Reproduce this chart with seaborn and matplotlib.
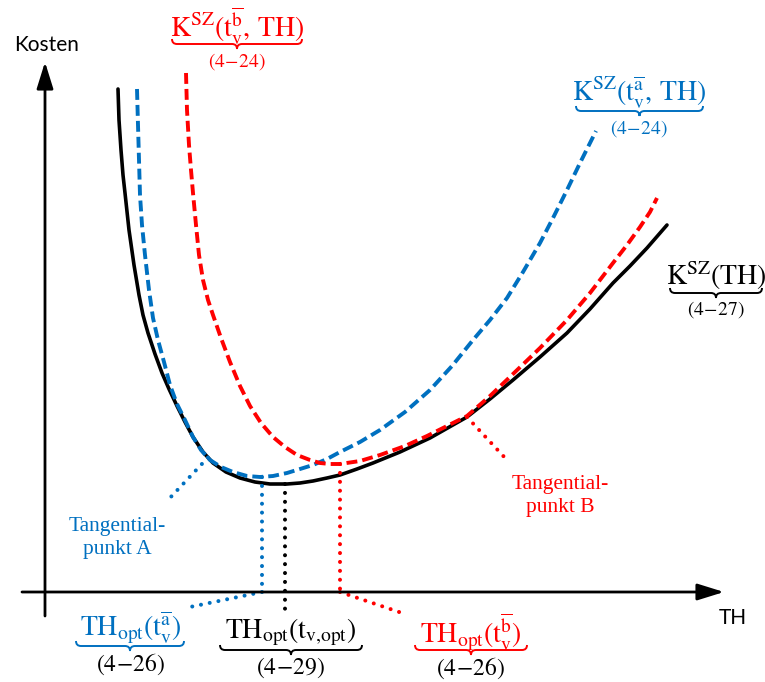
import numpy as np
import matplotlib
matplotlib.use("Agg")
import matplotlib.pyplot as plt
import seaborn as sns
from matplotlib.transforms import Affine2D
from matplotlib.path import Path
from matplotlib.patches import PathPatch

# ---- data (TH, cost) ----
th_black = [73, 74, 76, 78, 80, 84, 89, 94, 98, 103, 110, 117, 124, 132, 140, 148, 158, 168, 181, 195,
            210, 225, 242, 255, 268, 282, 295, 312, 328, 355, 385, 422, 445, 468, 495, 522, 545, 568,
            585, 602, 622]
cost_black = [503, 472, 442, 417, 399, 362, 327, 297, 277, 259, 238, 219, 203, 186, 170, 155, 140, 129, 120, 114,
              110, 108, 108, 109, 111, 114, 117, 123, 129, 140, 154, 175, 193, 212, 235, 259, 283, 309,
              326, 344, 367]

th_blue = [92, 93, 94, 95, 97, 100, 104, 108, 113, 119, 125, 132, 140, 148, 156, 165, 176, 188, 202, 215,
           228, 242, 255, 268, 282, 295, 315, 335, 360, 385, 407, 428, 445, 462, 478, 495, 508, 522, 535, 551]
cost_blue = [503, 467, 432, 397, 367, 337, 302, 274, 252, 230, 207, 188, 172, 155, 142, 132, 125, 120, 116, 115,
             116, 119, 123, 127, 133, 140, 150, 162, 180, 202, 226, 252, 272, 294, 320, 349, 374, 402, 429, 461]

th_red = [141, 142, 144, 146, 148, 151, 154, 158, 163, 168, 176, 185, 195, 205, 216, 228, 240, 252, 265, 275,
          285, 295, 315, 335, 360, 382, 402, 422, 445, 468, 495, 522, 545, 568, 582, 595, 605, 612]
cost_red = [519, 482, 447, 422, 399, 367, 337, 312, 292, 277, 254, 230, 206, 186, 169, 155, 145, 137, 132, 129,
            128, 128, 131, 137, 146, 156, 166, 176, 196, 218, 244, 272, 299, 329, 347, 365, 380, 394]

th_opt = {"a": 217, "opt": 240, "b": 295}       # optimum positions
tangent_th = {"A": 163, "B": 422}                # tangent points

RED = "#FF0000"
BLUE = "#0070C0"

sns.set_theme(style="white")
plt.rcParams["mathtext.fontset"] = "stix"

W, H = 765, 682
fig = plt.figure(figsize=(W / 100, H / 100), dpi=100)
ax = fig.add_axes([0, 0, 1, 1])
ax.set_xlim(-45, W - 45)
ax.set_ylim(592 - H, 592)
ax.set_axis_off()

# pixel transform (origin top-left) for annotations
pix = Affine2D().scale(1 / W, -1 / H).translate(0, 1) + fig.transFigure


def P(px, py):
    return px - 45, 592 - py


# ---- axes arrows ----
ax.annotate("", xy=P(45, 62), xytext=P(45, 616),
            arrowprops=dict(arrowstyle="-|>,head_length=0.9,head_width=0.28", lw=2, color="black",
                            mutation_scale=18, shrinkA=0, shrinkB=0))
ax.annotate("", xy=P(724, 592), xytext=P(22, 592),
            arrowprops=dict(arrowstyle="-|>,head_length=0.9,head_width=0.28", lw=2, color="black",
                            mutation_scale=18, shrinkA=0, shrinkB=0))

# ---- curves ----
sns.lineplot(x=th_black, y=cost_black, ax=ax, color="black", lw=2.6, sort=False, estimator=None)
sns.lineplot(x=th_blue, y=cost_blue, ax=ax, color=BLUE, lw=2.8, sort=False, estimator=None)
ax.lines[-1].set_dashes([2.8, 1.3])
sns.lineplot(x=th_red, y=cost_red, ax=ax, color=RED, lw=2.8, sort=False, estimator=None)
ax.lines[-1].set_dashes([2.8, 1.3])

dot = dict(lw=2.9, dashes=[0.01, 2.2], dash_capstyle="round")

# ---- dotted guides ----
yb = np.interp(th_opt["a"], th_blue, cost_blue)
ax.plot([th_opt["a"], th_opt["a"]], [yb, 0], color=BLUE, **dot)
ax.plot([th_opt["a"], P(190, 607)[0]], [0, P(190, 607)[1]], color=BLUE, **dot)

yk = np.interp(th_opt["opt"], th_black, cost_black)
ax.plot([th_opt["opt"], th_opt["opt"]], [yk, P(0, 610)[1]], color="black", **dot)

yr = np.interp(th_opt["b"], th_red, cost_red)
ax.plot([th_opt["b"], th_opt["b"]], [yr, 0], color=RED, **dot)
ax.plot([th_opt["b"], P(405, 614)[0]], [0, P(405, 614)[1]], color=RED, **dot)

ya = np.interp(tangent_th["A"], th_black, cost_black)
ax.plot([tangent_th["A"], P(168, 500)[0]], [ya, P(168, 500)[1]], color=BLUE, **dot)
yB = np.interp(tangent_th["B"], th_black, cost_black)
ax.plot([tangent_th["B"], P(507, 460)[0]], [yB, P(507, 460)[1]], color=RED, **dot)


# ---- braces ----
def brace(x0, x1, y, color, h=5, lw=1.4):
    xm = (x0 + x1) / 2
    verts = [(x0, y - h), (x0, y), (x0 + h, y), (xm - h, y), (xm, y), (xm, y + h),
             (xm, y), (xm + h, y), (x1 - h, y), (x1, y), (x1, y - h)]
    codes = [Path.MOVETO, Path.CURVE3, Path.CURVE3, Path.LINETO, Path.CURVE3, Path.CURVE3,
             Path.CURVE3, Path.CURVE3, Path.LINETO, Path.CURVE3, Path.CURVE3]
    ax.add_patch(PathPatch(Path(verts, codes), fill=False, ec=color, lw=lw, transform=pix))


def label(x, y, s, color, size, **kw):
    ax.text(x, y, s, color=color, fontsize=size, ha="center", va="center", transform=pix, **kw)


# top red label
label(237, 26, r"$\mathrm{K^{SZ}(t_{v}^{\overline{b}},\,TH)}$", RED, 20)
brace(172, 302, 44, RED)
label(237, 62, r"$\mathrm{(4\!-\!24)}$", RED, 14)

# top blue label
label(639, 93, r"$\mathrm{K^{SZ}(t_{v}^{\overline{a}},\,TH)}$", BLUE, 20)
brace(576, 703, 111, BLUE)
label(639, 129, r"$\mathrm{(4\!-\!24)}$", BLUE, 14)

# black label
label(716, 276, r"$\mathrm{K^{SZ}(TH)}$", "black", 20)
brace(670, 762, 293, "black")
label(716, 310, r"$\mathrm{(4\!-\!27)}$", "black", 14)

# bottom labels
label(131, 628, r"$\mathrm{TH_{opt}(t_{v}^{\overline{a}})}$", BLUE, 20)
brace(76, 184, 646, BLUE)
label(131, 664, r"$\mathrm{(4\!-\!26)}$", "black", 17)

label(291, 632, r"$\mathrm{TH_{opt}(t_{v{,}opt})}$", "black", 20)
brace(220, 362, 650, "black")
label(291, 668, r"$\mathrm{(4\!-\!29)}$", "black", 17)

label(471, 632, r"$\mathrm{TH_{opt}(t_{v}^{\overline{b}})}$", RED, 20)
brace(415, 527, 650, RED)
label(471, 668, r"$\mathrm{(4\!-\!26)}$", "black", 17)

# tangent labels
ax.text(117, 538, "Tangential-\npunkt A", color=BLUE, fontsize=15.5, family="Liberation Serif",
        ha="center", va="center", linespacing=1.3, transform=pix)
ax.text(560, 496, "Tangential-\npunkt B", color=RED, fontsize=15.5, family="Liberation Serif",
        ha="center", va="center", linespacing=1.3, transform=pix)

# axis titles
ax.text(47, 45, "Kosten", color="black", fontsize=15, family="Lato", ha="center", va="center", transform=pix)
ax.text(733, 618, "TH", color="black", fontsize=15, family="Lato", ha="center", va="center", transform=pix)

fig.savefig("out.png", dpi=100)
